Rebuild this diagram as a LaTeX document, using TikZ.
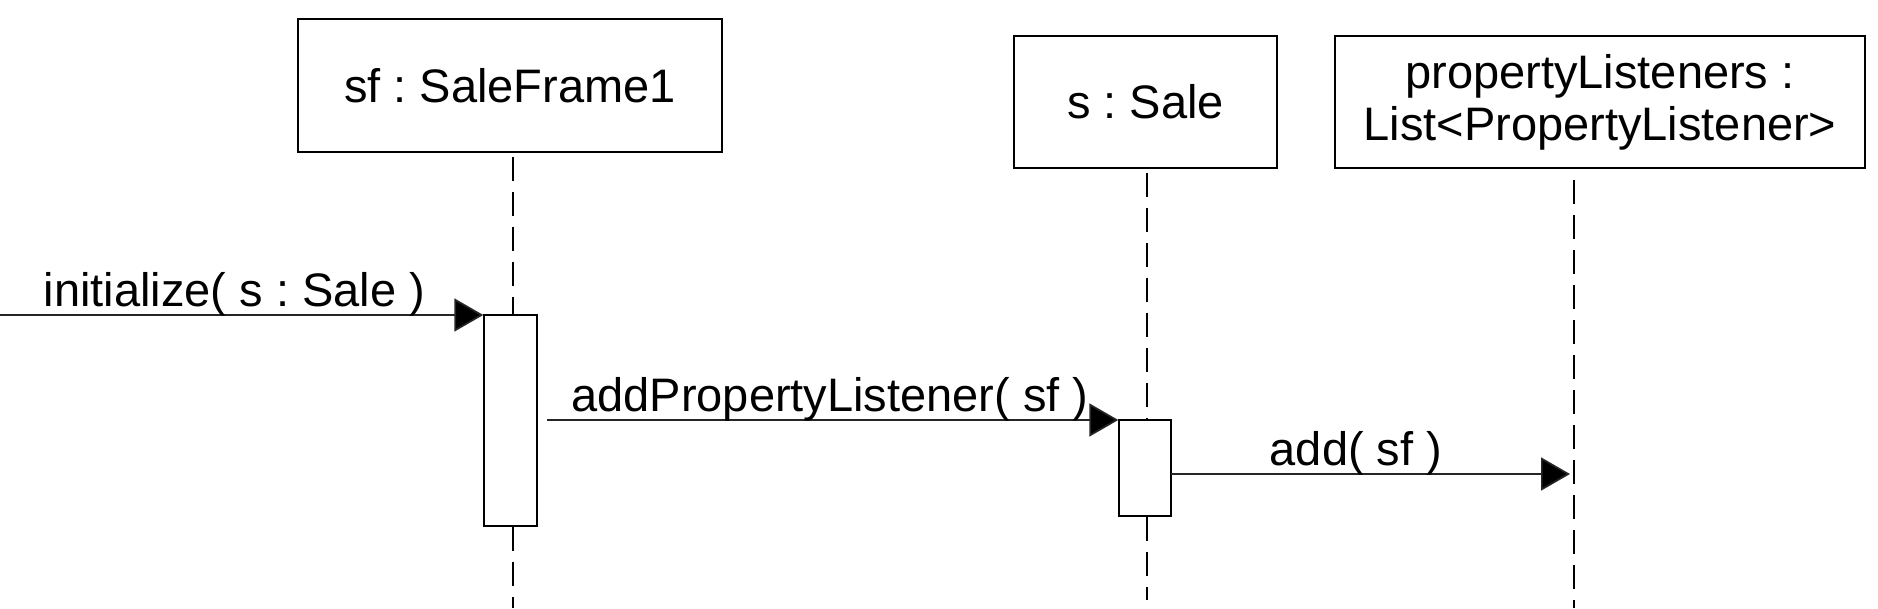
\documentclass[tikz,border=0pt]{standalone}
\usepackage{fontspec}
\setmainfont{Liberation Sans}
\usetikzlibrary{arrows.meta}
\frenchspacing
\tikzset{
  objbox/.style={draw=black, line width=1.4pt, fill=white, inner sep=0pt, align=center},
  actbox/.style={draw=black, line width=1.4pt, fill=white, inner sep=0pt},
  lifeline/.style={draw=black, line width=1.8pt, dash pattern=on 24pt off 11pt},
  msg/.style={draw=black!85, line width=1.7pt, -{Triangle[length=29pt,width=33pt,fill=black]}},
  lbl/.style={inner sep=0pt, anchor=base},
}
\begin{document}
\begin{tikzpicture}[x=1pt,y=-1pt,font=\fontsize{47}{52}\selectfont]
\useasboundingbox (0,0) rectangle (1878,608);
% objects
\node[objbox, minimum width=424pt, minimum height=133pt] (sf) at (510,85.5) {sf : SaleFrame1};
\node[objbox, minimum width=263pt, minimum height=132pt] (s) at (1145.5,102) {s : Sale};
\node[objbox, minimum width=530pt, minimum height=132pt] (pl) at (1600,102) {propertyListeners :\\List<PropertyListener>};
% activations
\node[actbox, minimum width=53pt, minimum height=211pt] (a1) at (510.5,420.5) {};
\node[actbox, minimum width=52pt, minimum height=96pt] (a2) at (1145,468) {};
% lifeline coordinates
\coordinate (l1end) at (513,608);
\coordinate (l2end) at (1147,600);
\coordinate (l3top) at (1574,180);
\coordinate (l3end) at (1574,608);
% lifelines
\draw[lifeline] ([yshift=-4pt]sf.south -| l1end) -- (a1.north -| l1end);
\draw[lifeline] (a1.south -| l1end) -- (l1end);
\draw[lifeline] ([yshift=-4pt]s.south -| l2end) -- (a2.north -| l2end);
\draw[lifeline] (a2.south -| l2end) -- (l2end);
\draw[lifeline] (l3top) -- (l3end);
% messages
\coordinate (m1s) at (0,315);
\coordinate (m2s) at (547,420);
\coordinate (m3s) at (1171,474);
\draw[msg] (m1s) -- (m1s -| a1.west);
\draw[msg] (m2s) -- (m2s -| a2.west);
\draw[msg] (m3s) -- ([xshift=-4pt]m3s -| l3top);
% labels
\node[lbl] (t1) at (234.5,306) {initialize( s : Sale )};
\node[lbl] (t2) at (830,411) {addPropertyListener( sf )};
\node[lbl] (t3) at (1356,465) {add( sf )};
\end{tikzpicture}
\end{document}
